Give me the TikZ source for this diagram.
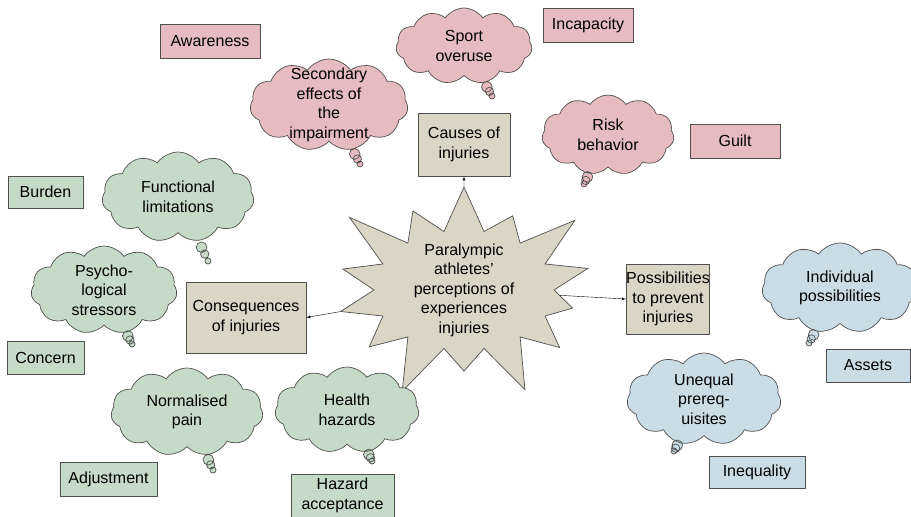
\documentclass[tikz,border=0pt]{standalone}
\usepackage{fontspec}
\setmainfont{Liberation Sans}
\usetikzlibrary{shapes.symbols,shapes.callouts}

\definecolor{pinkfill}{HTML}{E6BCC0}
\definecolor{greenfill}{HTML}{C5DAC7}
\definecolor{bluefill}{HTML}{CADDE7}
\definecolor{tanfill}{HTML}{DAD6C6}
\definecolor{edge}{HTML}{505050}

\begin{document}
\begin{tikzpicture}[x=1pt, y=-1pt, font=\fontsize{16}{19.5}\selectfont,
  box/.style={draw=edge, line width=0.8pt, align=center, inner sep=0pt},
  thought/.style={cloud callout, draw=edge, line width=0.7pt, align=center,
    cloud puffs=11, cloud puff arc=110, cloud ignores aspect,
    callout pointer segments=3, callout pointer start size=13pt,
    callout pointer end size=6pt, inner xsep=0pt, inner ysep=-14pt},
  burst/.style={starburst, draw=edge, line width=0.7pt, fill=tanfill, align=center,
    starburst points=14, starburst point height=60pt, inner sep=-14pt}]

  \useasboundingbox (0,0) rectangle (911,517);

  % centre
  \node [burst, minimum width=300pt, minimum height=240pt] (burst) at (464,290)
    {Paralympic\\athletes'\\perceptions of\\experiences\\injuries};

  % main boxes
  \node [box, fill=tanfill, minimum width=92pt, minimum height=63pt] (causes) at (464,144.5) {Causes of\\injuries};
  \node [box, fill=tanfill, minimum width=120pt, minimum height=71pt] (conseq) at (246,317.5) {Consequences\\of injuries};
  \node [box, fill=tanfill, minimum width=80pt, minimum height=70pt] (prevent) at (668,299) {Possibilities\\to prevent\\injuries};

  % causes
  \node [box, fill=pinkfill, minimum width=100pt, minimum height=34pt] (awareness) at (210,41) {Awareness};
  \node [box, fill=pinkfill, minimum width=90pt, minimum height=34pt] (incapacity) at (588,25) {Incapacity};
  \node [box, fill=pinkfill, minimum width=90pt, minimum height=34pt] (guilt) at (735,141) {Guilt};
  \node [thought, fill=pinkfill, minimum width=136pt, minimum height=76pt,
    callout absolute pointer={(492,96)}] (overuse) at (464,46) {Sport\\overuse};
  \node [thought, fill=pinkfill, minimum width=158pt, minimum height=92pt,
    callout absolute pointer={(360,164)}] (secondary) at (329,105) {Secondary\\effects of\\the\\impairment};
  \node [thought, fill=pinkfill, minimum width=132pt, minimum height=80pt,
    callout absolute pointer={(584,184)}] (risk) at (608,135) {Risk\\behavior};

  % consequences
  \node [box, fill=greenfill, minimum width=75pt, minimum height=32pt] (burden) at (45.5,192) {Burden};
  \node [box, fill=greenfill, minimum width=77pt, minimum height=33pt] (concern) at (45.5,357.5) {Concern};
  \node [box, fill=greenfill, minimum width=97pt, minimum height=34pt] (adjust) at (108.5,479) {Adjustment};
  \node [box, fill=greenfill, minimum width=103pt, minimum height=43pt] (hazacc) at (342.5,495.5) {Hazard\\acceptance};
  \node [thought, fill=greenfill, minimum width=152pt, minimum height=90pt,
    callout absolute pointer={(208,261)}] (functional) at (178,197) {Functional\\limitations};
  \node [thought, fill=greenfill, minimum width=146pt, minimum height=88pt,
    callout absolute pointer={(132,344)}] (psycho) at (104,290) {Psycho-\\logical\\stressors};
  \node [thought, fill=greenfill, minimum width=152pt, minimum height=88pt,
    callout absolute pointer={(213,470)}] (pain) at (187,412) {Normalised\\pain};
  \node [thought, fill=greenfill, minimum width=144pt, minimum height=86pt,
    callout absolute pointer={(372,461)}] (health) at (347,410) {Health\\hazards};

  % prevention
  \node [box, fill=bluefill, minimum width=84pt, minimum height=33pt] (assets) at (868,365.5) {Assets};
  \node [box, fill=bluefill, minimum width=96pt, minimum height=32pt] (inequality) at (757,472) {Inequality};
  \node [thought, fill=bluefill, minimum width=156pt, minimum height=90pt,
    callout absolute pointer={(809,343)}] (individual) at (840,288) {Individual\\possibilities};
  \node [thought, fill=bluefill, minimum width=154pt, minimum height=92pt,
    callout absolute pointer={(674,451)}] (unequal) at (704,399) {Unequal\\prereq-\\uisites};

  % arrows
  \draw [-latex] (burst) -- (causes);
  \draw [-latex] (burst) -- (conseq.east);
  \draw [-latex] (burst) -- (prevent.west);

\end{tikzpicture}
\end{document}
